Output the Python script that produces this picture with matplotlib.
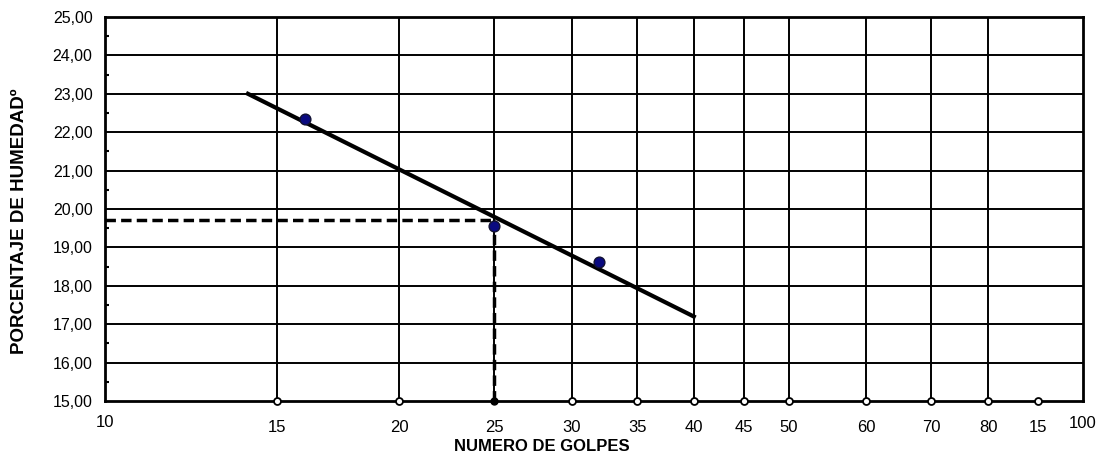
import matplotlib.pyplot as plt
from matplotlib.ticker import FixedLocator, MultipleLocator

plt.rcParams['font.family'] = ['Liberation Sans Narrow', 'Liberation Sans', 'DejaVu Sans']

# ensayo de limite liquido
golpes = [16, 25, 32]
humedad = [22.35, 19.55, 18.62]

# recta de fluidez (escala log)
recta_x = [14, 40]
recta_y = [23.0, 17.2]

# lectura a 25 golpes
ll_golpes = 25
ll_humedad = 19.72

grid_x = [15, 20, 25, 30, 35, 40, 45, 50, 60, 70, 80]
tick_x = [10, 15, 20, 25, 30, 35, 40, 45, 50, 60, 70, 80, 90, 100]
tick_lbl = ['10', '15', '20', '25', '30', '35', '40', '45', '50', '60', '70', '80', '15', '100']
marca_x = [15, 20, 30, 35, 40, 45, 50, 60, 70, 80, 90]

fig = plt.figure(figsize=(11, 4.55), dpi=100)
ax = fig.add_axes([0.0955, 0.1187, 0.889, 0.8439])

ax.set_xscale('log')
ax.set_xlim(10, 100)
ax.set_ylim(15, 25)

for gx in grid_x:
    ax.axvline(gx, color='black', lw=1.4, zorder=1)
for gy in range(16, 25):
    ax.axhline(gy, color='black', lw=1.4, zorder=1)

ax.plot(recta_x, recta_y, color='black', lw=3, zorder=3)
ax.plot([10, ll_golpes], [ll_humedad, ll_humedad], color='black', lw=2.5, ls=(0, (3, 1.5)), zorder=3)
ax.plot([ll_golpes, ll_golpes], [15, ll_humedad], color='black', lw=2.5, ls=(0, (3, 1.5)), zorder=3)

ax.scatter(golpes, humedad, s=60, color='#0a0a80', edgecolor='#111133', lw=1, zorder=4)

ax.plot(marca_x, [15] * len(marca_x), 'o', ms=5, mfc='white', mec='black', mew=1.3,
        clip_on=False, zorder=5)
ax.plot([ll_golpes], [15], 'o', ms=5, mfc='black', mec='black', clip_on=False, zorder=5)

for s in ax.spines.values():
    s.set_linewidth(2)

ax.xaxis.set_major_locator(FixedLocator(tick_x))
ax.xaxis.set_minor_locator(FixedLocator([]))
ax.set_xticklabels(tick_lbl, fontsize=12)
ax.tick_params(axis='x', length=0, pad=14)
lbls = ax.get_xticklabels()
lbls[0].set_y(0.013)
lbls[-1].set_y(0.011)

ax.yaxis.set_major_locator(MultipleLocator(1))
ax.yaxis.set_minor_locator(MultipleLocator(0.5))
ax.set_yticklabels([f'{v:.2f}'.replace('.', ',') for v in ax.get_yticks()], fontsize=11.5)
ax.tick_params(axis='y', which='major', length=0, pad=9)
ax.tick_params(axis='y', which='minor', direction='in', length=3, width=1.5)

fig.text(0.4927, 0.0176, 'NUMERO DE GOLPES', ha='center', va='center',
         fontsize=12, fontweight='bold')
fig.text(0.018, 0.514, 'PORCENTAJE DE HUMEDADº', ha='center', va='center',
         rotation=90, fontsize=13.5, fontweight='bold')

fig.savefig('out.png', dpi=100)
